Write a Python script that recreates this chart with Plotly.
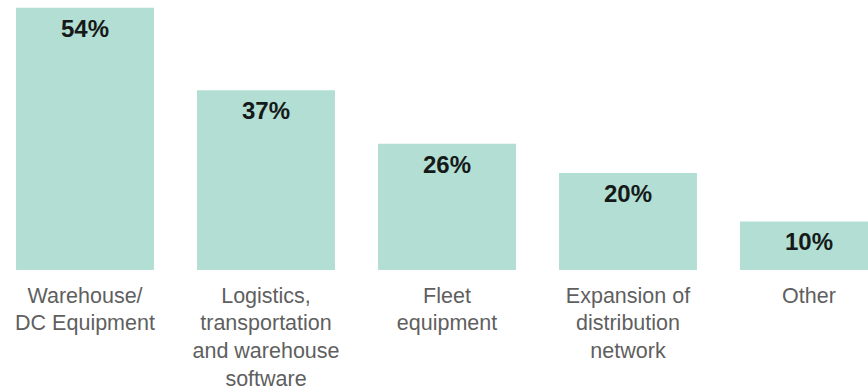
import plotly.graph_objects as go

categories = [
    "Warehouse/<br>DC Equipment",
    "Logistics,<br>transportation<br>and warehouse<br>software",
    "Fleet<br>equipment",
    "Expansion of<br>distribution<br>network",
    "Other",
]
shares = [54, 37, 26, 20, 10]
share_labels = ["54%", "37%", "26%", "20%", "10%"]

bar_color = "#b2ded4"
font_family = "Liberation Sans, Arial, Helvetica, sans-serif"

fig = go.Figure(
    go.Bar(
        x=list(range(len(categories))),
        y=shares,
        marker=dict(color=bar_color, line=dict(width=0)),
        hoverinfo="skip",
    )
)

# value labels sit just inside the top of each bar
for i, (v, lab) in enumerate(zip(shares, share_labels)):
    fig.add_annotation(
        x=i, y=v, text=f"<b>{lab}</b>", showarrow=False,
        yanchor="top", yshift=-5,
        font=dict(family=font_family, size=24, color="#151a19"),
    )

fig.update_layout(
    width=868, height=391,
    margin=dict(l=0, r=0, t=0, b=117),
    paper_bgcolor="white", plot_bgcolor="white",
    bargap=0.238,
    showlegend=False,
    xaxis=dict(
        range=[-0.4696, 4.326],
        tickmode="array",
        tickvals=list(range(len(categories))),
        ticktext=categories,
        showgrid=False, zeroline=False, showline=False, ticks="",
        tickfont=dict(family=font_family, size=21.5, color="#5f5f5f"),
        ticklabelstandoff=10,
        fixedrange=True,
    ),
    yaxis=dict(
        range=[0, 55.6],
        visible=False,
        fixedrange=True,
    ),
)

fig.write_html("out.html")
